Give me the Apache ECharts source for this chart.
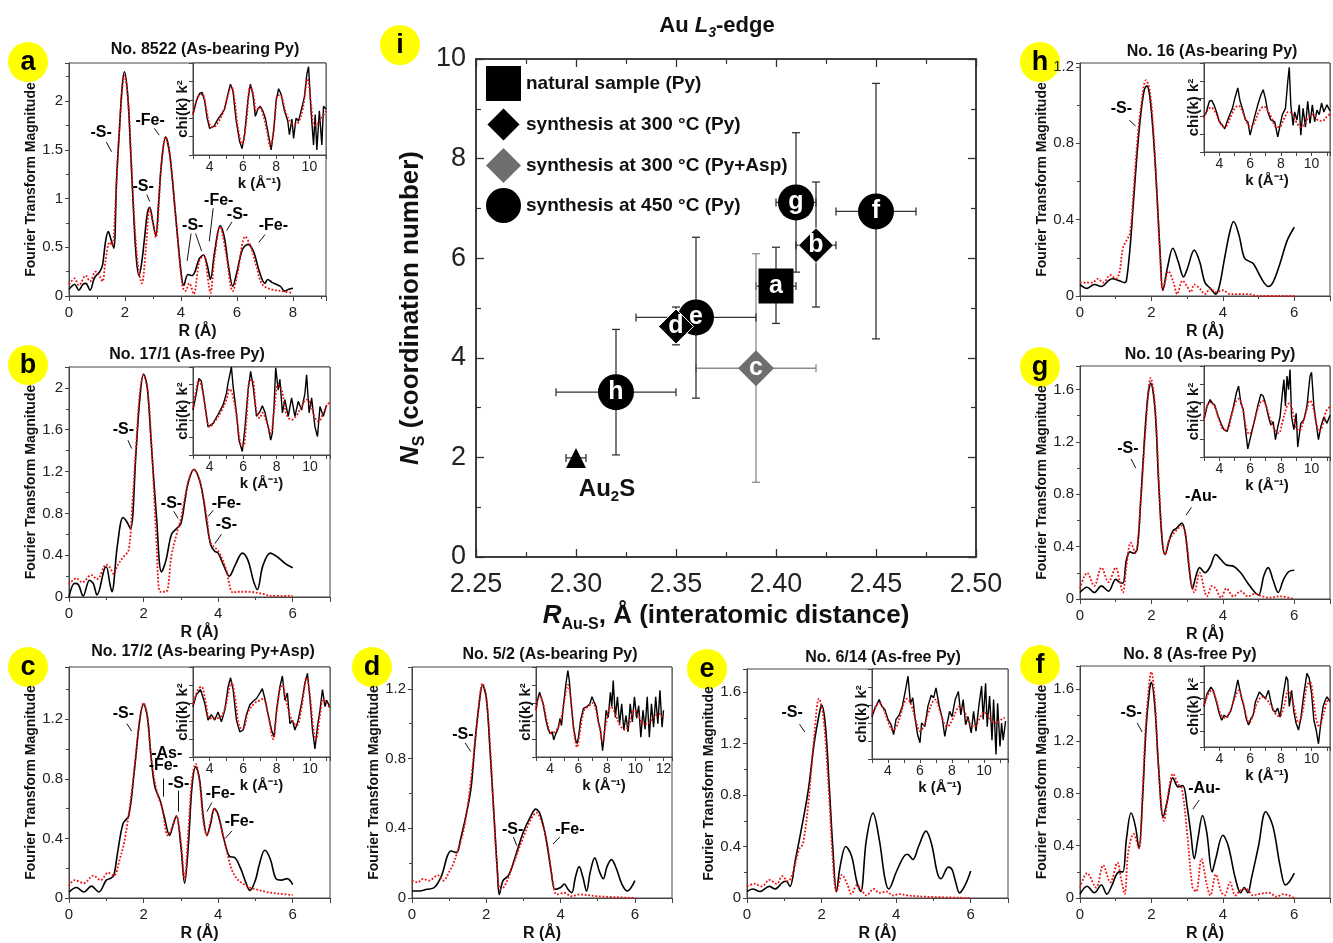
<!DOCTYPE html>
<html>
<head>
<meta charset="utf-8">
<script src="https://cdn.jsdelivr.net/npm/echarts@6/dist/echarts.min.js"></script>
<style>
html, body { margin: 0; padding: 0; background: #fff; }
#chart { width: 1333px; height: 943px; }
</style>
</head>
<body>
<div id="chart"></div>
<script>
const FONT = '"Liberation Sans", Arial, sans-serif'

// ---- FT magnitude curves, [R, |FT|] ; black = experiment, red = fit ----
const aBlack = [[0,0.07],[0.1,0.1],[0.2,0.12],[0.35,0.06],[0.5,0.12],[0.6,0.13],[0.75,0.06],[0.9,0.18],[1.0,0.22],[1.1,0.25],[1.2,0.32],[1.3,0.55],[1.4,0.66],[1.5,0.58],[1.6,0.49],[1.7,1.2],[1.8,1.7],[1.9,2.15],[1.98,2.3],[2.1,2.05],[2.2,1.5],[2.3,0.9],[2.4,0.4],[2.5,0.21],[2.6,0.35],[2.7,0.6],[2.8,0.85],[2.88,0.91],[3.0,0.75],[3.1,0.62],[3.2,0.95],[3.3,1.35],[3.45,1.63],[3.6,1.45],[3.8,0.85],[4.0,0.25],[4.1,0.11],[4.25,0.22],[4.4,0.21],[4.5,0.25],[4.65,0.38],[4.8,0.42],[4.95,0.3],[5.05,0.17],[5.2,0.45],[5.4,0.72],[5.55,0.6],[5.7,0.3],[5.85,0.1],[6.0,0.25],[6.2,0.48],[6.4,0.53],[6.6,0.45],[6.8,0.25],[7.0,0.13],[7.1,0.17],[7.25,0.14],[7.4,0.12],[7.55,0.1],[7.7,0.05],[7.85,0.07],[8.0,0.08]]
const aRed = [[0,0.12],[0.2,0.18],[0.35,0.11],[0.6,0.21],[0.75,0.15],[0.95,0.25],[1.1,0.2],[1.2,0.15],[1.3,0.35],[1.45,0.55],[1.55,0.52],[1.65,0.9],[1.8,1.7],[1.98,2.26],[2.1,2.05],[2.3,0.95],[2.45,0.35],[2.6,0.13],[2.75,0.5],[2.88,0.9],[3.0,0.75],[3.1,0.6],[3.3,1.35],[3.45,1.63],[3.6,1.45],[3.85,0.7],[4.05,0.1],[4.15,0.05],[4.3,0.13],[4.45,0.02],[4.65,0.35],[4.8,0.42],[5.0,0.1],[5.05,0.03],[5.2,0.4],[5.4,0.71],[5.6,0.45],[5.85,0.05],[6.0,0.2],[6.3,0.61],[6.5,0.5],[6.7,0.3],[6.9,0.12],[7.2,0.07],[7.6,0.05],[8.0,0.03]]

const bBlack = [[0,0.0],[0.15,0.13],[0.25,0.12],[0.38,0.01],[0.55,0.16],[0.65,0.13],[0.75,0.02],[0.95,0.27],[1.0,0.29],[1.1,0.12],[1.15,0.05],[1.3,0.5],[1.45,0.76],[1.55,0.72],[1.65,0.65],[1.8,1.4],[1.9,1.9],[2.0,2.13],[2.1,2.0],[2.2,1.5],[2.35,0.75],[2.48,0.24],[2.6,0.35],[2.75,0.6],[2.9,0.66],[3.0,0.7],[3.1,0.9],[3.2,1.1],[3.35,1.22],[3.5,1.12],[3.6,0.95],[3.7,0.7],[3.8,0.5],[3.9,0.44],[4.0,0.42],[4.15,0.3],[4.3,0.2],[4.45,0.3],[4.65,0.42],[4.8,0.35],[4.95,0.15],[5.05,0.07],[5.2,0.3],[5.4,0.42],[5.6,0.38],[5.8,0.32],[6.0,0.28]]
const bRed = [[0,0.12],[0.2,0.18],[0.35,0.14],[0.6,0.21],[0.75,0.17],[1.0,0.31],[1.1,0.28],[1.2,0.22],[1.3,0.3],[1.45,0.38],[1.6,0.45],[1.7,0.9],[1.8,1.45],[1.9,1.95],[2.0,2.13],[2.1,2.0],[2.2,1.55],[2.35,0.5],[2.45,0.05],[2.6,0.05],[2.75,0.4],[2.9,0.62],[3.0,0.75],[3.2,1.1],[3.35,1.22],[3.5,1.12],[3.7,0.75],[3.8,0.52],[4.0,0.44],[4.2,0.28],[4.4,0.04],[4.5,0.05],[4.8,0.05],[5.2,0.03],[5.4,0.01],[6.0,0.01]]

const cBlack = [[0,0.04],[0.2,0.07],[0.4,0.04],[0.6,0.08],[0.8,0.04],[1.0,0.12],[1.1,0.13],[1.2,0.15],[1.3,0.3],[1.45,0.5],[1.6,0.55],[1.75,0.85],[1.9,1.2],[2.0,1.3],[2.1,1.22],[2.2,0.95],[2.3,0.75],[2.45,0.65],[2.55,0.55],[2.7,0.42],[2.8,0.5],[2.88,0.55],[3.0,0.35],[3.1,0.1],[3.2,0.35],[3.3,0.75],[3.4,0.88],[3.5,0.8],[3.6,0.55],[3.7,0.42],[3.8,0.5],[3.9,0.6],[4.0,0.56],[4.15,0.4],[4.3,0.28],[4.45,0.27],[4.6,0.2],[4.75,0.1],[4.85,0.05],[5.0,0.12],[5.1,0.22],[5.25,0.32],[5.4,0.26],[5.55,0.13],[5.7,0.12],[5.85,0.13],[6.0,0.09]]
const cRed = [[0,0.08],[0.15,0.12],[0.4,0.1],[0.65,0.15],[0.85,0.12],[1.05,0.17],[1.2,0.15],[1.35,0.25],[1.5,0.4],[1.7,0.75],[1.9,1.2],[2.0,1.31],[2.1,1.22],[2.2,0.95],[2.35,0.72],[2.5,0.6],[2.65,0.42],[2.78,0.48],[2.88,0.55],[3.0,0.38],[3.1,0.13],[3.2,0.45],[3.3,0.8],[3.4,0.9],[3.5,0.78],[3.6,0.52],[3.7,0.42],[3.8,0.52],[3.9,0.6],[4.0,0.55],[4.2,0.35],[4.35,0.2],[4.5,0.13],[4.7,0.09],[4.85,0.07],[5.0,0.06],[5.3,0.04],[5.6,0.03],[6.0,0.02]]

const dBlack = [[0,0.04],[0.2,0.04],[0.4,0.05],[0.6,0.06],[0.8,0.13],[0.95,0.24],[1.05,0.27],[1.2,0.26],[1.3,0.33],[1.5,0.52],[1.6,0.65],[1.7,0.9],[1.8,1.1],[1.9,1.22],[2.0,1.15],[2.1,0.85],[2.2,0.5],[2.3,0.15],[2.35,0.02],[2.45,0.1],[2.6,0.13],[2.8,0.25],[3.0,0.38],[3.2,0.47],[3.33,0.51],[3.45,0.48],[3.6,0.35],[3.75,0.15],[3.85,0.05],[4.0,0.06],[4.1,0.08],[4.2,0.05],[4.3,0.03],[4.4,0.12],[4.5,0.18],[4.6,0.12],[4.7,0.04],[4.8,0.15],[4.92,0.23],[5.05,0.15],[5.15,0.11],[5.25,0.18],[5.37,0.22],[5.5,0.17],[5.65,0.08],[5.8,0.04],[5.9,0.06],[6.0,0.1]]
const dRed = [[0,0.1],[0.15,0.09],[0.3,0.11],[0.45,0.1],[0.7,0.13],[0.85,0.1],[1.0,0.15],[1.1,0.19],[1.2,0.25],[1.4,0.4],[1.6,0.7],[1.75,1.0],[1.9,1.23],[2.0,1.15],[2.1,0.88],[2.2,0.5],[2.3,0.15],[2.38,0.05],[2.5,0.07],[2.7,0.18],[3.0,0.35],[3.2,0.45],[3.35,0.49],[3.5,0.43],[3.65,0.3],[3.8,0.08],[3.9,0.02],[4.1,0.03],[4.3,0.01],[4.5,0.02],[5.0,0.01],[6.0,0.0]]

const eBlack = [[0,0.05],[0.15,0.07],[0.35,0.05],[0.6,0.09],[0.75,0.07],[0.95,0.12],[1.05,0.13],[1.15,0.09],[1.3,0.3],[1.5,0.6],[1.65,0.85],[1.8,1.2],[1.95,1.45],[2.0,1.5],[2.1,1.35],[2.2,0.9],[2.3,0.4],[2.4,0.05],[2.5,0.25],[2.65,0.4],[2.8,0.33],[2.95,0.12],[3.05,0.05],[3.2,0.45],[3.38,0.66],[3.55,0.45],[3.7,0.15],[3.8,0.07],[4.0,0.2],[4.2,0.32],[4.3,0.34],[4.45,0.3],[4.6,0.4],[4.8,0.52],[4.95,0.42],[5.1,0.2],[5.2,0.15],[5.4,0.24],[5.5,0.22],[5.6,0.12],[5.7,0.04],[5.85,0.1],[6.0,0.21]]
const eRed = [[0,0.09],[0.2,0.11],[0.4,0.09],[0.6,0.14],[0.8,0.11],[0.95,0.17],[1.1,0.13],[1.2,0.17],[1.4,0.38],[1.5,0.42],[1.65,0.75],[1.8,1.25],[1.93,1.55],[2.05,1.4],[2.2,0.8],[2.3,0.3],[2.4,0.05],[2.55,0.18],[2.7,0.1],[2.8,0.03],[2.95,0.1],[3.1,0.05],[3.2,0.02],[3.4,0.07],[3.55,0.04],[3.75,0.05],[3.9,0.02],[4.1,0.03],[4.3,0.02],[4.8,0.01],[6.0,0.0]]

const fBlack = [[0,0.03],[0.2,0.09],[0.4,0.04],[0.6,0.1],[0.75,0.03],[0.9,0.1],[1.0,0.17],[1.1,0.2],[1.2,0.2],[1.3,0.45],[1.43,0.65],[1.55,0.55],[1.65,0.38],[1.75,0.75],[1.85,1.3],[1.95,1.6],[2.0,1.65],[2.1,1.45],[2.2,1.0],[2.33,0.62],[2.45,0.75],[2.6,0.92],[2.75,0.85],[2.88,0.86],[3.0,0.7],[3.1,0.5],[3.2,0.3],[3.3,0.45],[3.43,0.63],[3.55,0.5],[3.7,0.2],[3.8,0.3],[4.0,0.48],[4.15,0.4],[4.35,0.15],[4.5,0.04],[4.6,0.08],[4.7,0.04],[4.8,0.15],[5.0,0.4],[5.2,0.66],[5.4,0.55],[5.6,0.25],[5.75,0.1],[5.85,0.12],[6.0,0.19]]
const fRed = [[0,0.08],[0.2,0.19],[0.45,0.08],[0.65,0.25],[0.85,0.12],[1.05,0.27],[1.15,0.15],[1.25,0.03],[1.35,0.35],[1.5,0.49],[1.65,0.38],[1.75,0.8],[1.85,1.35],[2.0,1.73],[2.1,1.5],[2.2,1.0],[2.35,0.59],[2.5,0.85],[2.6,0.95],[2.75,0.87],[2.85,0.84],[3.0,0.5],[3.15,0.08],[3.25,0.05],[3.4,0.3],[3.55,0.1],[3.65,0.02],[3.8,0.18],[3.95,0.05],[4.05,0.02],[4.2,0.12],[4.35,0.02],[4.5,0.06],[4.65,0.07],[4.85,0.02],[5.0,0.03],[5.3,0.04],[5.5,0.01],[5.7,0.03],[6.0,0.0]]

const gBlack = [[0,0.05],[0.2,0.09],[0.4,0.05],[0.6,0.1],[0.8,0.06],[1.0,0.15],[1.1,0.13],[1.2,0.12],[1.3,0.3],[1.4,0.36],[1.5,0.35],[1.6,0.38],[1.7,0.75],[1.8,1.2],[1.9,1.55],[1.98,1.65],[2.1,1.45],[2.2,0.9],[2.3,0.45],[2.38,0.34],[2.5,0.45],[2.6,0.52],[2.7,0.54],[2.85,0.58],[2.95,0.5],[3.05,0.25],[3.15,0.08],[3.25,0.18],[3.35,0.24],[3.5,0.2],[3.65,0.25],[3.8,0.34],[3.95,0.3],[4.1,0.26],[4.3,0.25],[4.5,0.2],[4.7,0.12],[4.9,0.05],[5.0,0.03],[5.15,0.18],[5.27,0.24],[5.4,0.15],[5.55,0.05],[5.7,0.15],[5.85,0.21],[6.0,0.22]]
const gRed = [[0,0.08],[0.2,0.2],[0.4,0.1],[0.6,0.24],[0.8,0.13],[1.0,0.24],[1.1,0.15],[1.2,0.05],[1.3,0.25],[1.42,0.43],[1.55,0.35],[1.7,0.75],[1.85,1.35],[1.98,1.69],[2.1,1.48],[2.2,0.95],[2.3,0.45],[2.38,0.34],[2.5,0.45],[2.65,0.51],[2.85,0.56],[3.0,0.4],[3.1,0.15],[3.2,0.05],[3.35,0.2],[3.5,0.05],[3.55,0.02],[3.7,0.1],[3.8,0.08],[3.95,0.01],[4.1,0.08],[4.3,0.02],[4.5,0.06],[4.7,0.02],[4.9,0.04],[5.1,0.02],[5.3,0.01],[5.6,0.02],[6.0,0.0]]

const hBlack = [[0,0.06],[0.2,0.04],[0.4,0.06],[0.6,0.05],[0.8,0.08],[0.9,0.09],[1.1,0.08],[1.25,0.07],[1.3,0.08],[1.4,0.25],[1.5,0.5],[1.6,0.75],[1.7,0.95],[1.8,1.08],[1.87,1.1],[1.95,1.05],[2.05,0.85],[2.15,0.55],[2.25,0.2],[2.32,0.03],[2.45,0.15],[2.6,0.25],[2.75,0.18],[2.9,0.1],[3.0,0.14],[3.2,0.24],[3.35,0.18],[3.5,0.07],[3.65,0.04],[3.8,0.01],[3.9,0.05],[4.05,0.2],[4.2,0.34],[4.3,0.39],[4.45,0.32],[4.6,0.2],[4.75,0.18],[4.85,0.17],[5.0,0.12],[5.15,0.07],[5.27,0.05],[5.4,0.07],[5.6,0.17],[5.8,0.29],[6.0,0.36]]
const hRed = [[0,0.07],[0.2,0.07],[0.35,0.07],[0.5,0.09],[0.65,0.07],[0.85,0.11],[1.0,0.09],[1.1,0.12],[1.2,0.25],[1.3,0.29],[1.4,0.33],[1.5,0.55],[1.6,0.8],[1.7,0.98],[1.85,1.13],[1.95,1.08],[2.05,0.88],[2.15,0.55],[2.25,0.18],[2.32,0.03],[2.48,0.13],[2.62,0.07],[2.72,0.01],[2.87,0.08],[3.0,0.05],[3.1,0.02],[3.2,0.06],[3.35,0.04],[3.5,0.01],[3.65,0.04],[3.8,0.02],[4.0,0.03],[4.2,0.01],[4.45,0.01],[4.7,0.01],[5.0,0.0],[6.0,0.0]]

// ---- inset chi(k)k^2 curves, [k, arbitrary units 0..10] ----
const aChiBlack = [[3.0,4.4],[3.2,5.9],[3.4,6.7],[3.55,6.8],[3.7,5.9],[3.85,4.0],[4.0,2.9],[4.1,2.8],[4.25,3.1],[4.5,3.9],[4.7,4.4],[4.9,5.0],[5.1,6.6],[5.25,7.7],[5.4,7.0],[5.6,3.7],[5.8,1.5],[5.95,0.7],[6.1,2.2],[6.3,5.9],[6.45,7.7],[6.6,6.6],[6.75,4.2],[6.9,5.0],[7.05,5.3],[7.2,4.8],[7.35,4.0],[7.5,2.6],[7.7,0.55],[7.85,2.6],[8.0,5.9],[8.15,7.2],[8.3,6.6],[8.5,4.8],[8.7,3.7],[8.8,2.2],[8.95,3.9],[9.05,1.8],[9.2,4.0],[9.35,3.7],[9.5,4.8],[9.7,6.3],[9.85,8.8],[9.95,9.6],[10.1,4.8],[10.25,1.1],[10.35,4.4],[10.45,0.55],[10.6,4.8],[10.75,1.1],[10.85,5.3],[11.0,5.0]]
const aChiRed = [[3.0,4.4],[3.3,6.3],[3.55,6.6],[3.8,5.0],[4.0,3.3],[4.2,3.0],[4.5,3.5],[4.8,4.6],[5.1,6.5],[5.3,7.5],[5.5,6.0],[5.7,3.0],[5.95,1.2],[6.2,3.5],[6.45,7.5],[6.65,6.4],[6.8,4.8],[7.0,5.2],[7.2,4.5],[7.45,2.6],[7.65,0.9],[7.9,3.5],[8.1,6.5],[8.3,6.4],[8.6,4.5],[8.9,3.5],[9.1,3.3],[9.35,3.6],[9.6,5.0],[9.9,8.3],[10.1,5.5],[10.3,3.2],[10.5,3.4],[10.8,4.2],[11.0,4.8]]

const bChiBlack = [[3.0,5.1],[3.2,7.0],[3.35,8.7],[3.5,8.4],[3.7,5.9],[3.9,3.2],[4.0,3.2],[4.2,3.6],[4.5,4.6],[4.8,5.7],[5.0,7.0],[5.1,8.2],[5.3,10.0],[5.4,7.8],[5.6,4.8],[5.75,1.7],[5.95,0.4],[6.1,2.9],[6.3,7.4],[6.45,9.5],[6.6,7.8],[6.8,4.4],[7.0,4.9],[7.15,5.6],[7.3,4.9],[7.5,3.2],[7.65,1.7],[7.75,2.5],[7.85,5.5],[7.95,9.9],[8.1,7.4],[8.2,8.6],[8.35,4.8],[8.5,6.3],[8.7,4.4],[8.9,6.5],[9.1,4.4],[9.3,6.1],[9.5,5.1],[9.7,7.0],[9.8,9.1],[9.95,4.8],[10.1,6.5],[10.3,3.2],[10.45,2.1],[10.6,5.5],[10.8,4.4],[11.0,5.7]]
const bChiRed = [[3.0,5.3],[3.2,7.5],[3.35,8.5],[3.55,7.5],[3.8,4.5],[4.0,3.2],[4.3,3.8],[4.7,5.0],[5.0,6.3],[5.2,7.5],[5.35,7.0],[5.6,4.5],[5.85,1.2],[6.0,1.0],[6.2,4.0],[6.4,8.5],[6.55,8.5],[6.8,5.0],[7.0,4.2],[7.15,4.8],[7.4,3.8],[7.65,2.5],[7.85,5.0],[8.1,8.0],[8.3,7.5],[8.6,4.6],[8.9,4.0],[9.2,4.5],[9.5,5.5],[9.8,6.3],[10.0,6.0],[10.3,4.2],[10.5,3.8],[10.8,4.8],[11.0,5.6],[11.2,6.0]]

const cChiBlack = [[3.0,5.6],[3.2,6.9],[3.45,7.5],[3.7,6.0],[3.9,4.1],[4.1,4.7],[4.3,4.1],[4.5,5.0],[4.7,3.9],[4.9,5.2],[5.1,7.8],[5.25,8.8],[5.4,7.5],[5.6,4.1],[5.8,2.8],[6.0,3.0],[6.2,4.7],[6.4,5.8],[6.6,6.2],[6.8,6.5],[7.0,7.1],[7.15,7.6],[7.3,6.5],[7.5,4.7],[7.7,3.0],[7.85,2.2],[8.0,5.2],[8.2,7.8],[8.35,9.0],[8.5,6.3],[8.65,7.1],[8.8,3.7],[8.95,4.1],[9.1,3.0],[9.3,4.1],[9.5,6.0],[9.7,8.2],[9.85,9.3],[10.0,6.5],[10.15,3.0],[10.3,0.9],[10.45,3.4],[10.6,5.2],[10.75,7.5],[10.9,5.6],[11.0,6.3],[11.2,5.5]]
const cChiRed = [[3.0,5.8],[3.3,7.5],[3.5,7.8],[3.75,6.2],[4.0,4.3],[4.3,4.3],[4.6,4.4],[4.9,5.3],[5.1,7.0],[5.3,8.3],[5.5,6.8],[5.8,3.3],[6.0,3.2],[6.3,5.0],[6.7,6.0],[7.0,6.3],[7.2,6.5],[7.5,4.6],[7.8,2.0],[8.0,4.8],[8.2,7.5],[8.35,8.0],[8.6,6.0],[8.9,4.2],[9.2,3.5],[9.5,5.5],[9.8,8.8],[10.0,6.8],[10.2,3.2],[10.35,1.9],[10.6,4.6],[10.8,6.4],[11.0,6.0],[11.2,5.4]]

const dChiBlack = [[3.0,5.2],[3.1,6.3],[3.25,7.2],[3.35,7.0],[3.5,5.9],[3.7,4.1],[3.85,3.1],[4.0,2.6],[4.15,2.8],[4.25,1.9],[4.4,2.6],[4.55,3.1],[4.7,4.3],[4.8,3.5],[4.95,5.9],[5.1,8.0],[5.25,9.6],[5.35,8.5],[5.5,5.6],[5.65,3.3],[5.8,1.9],[5.9,1.5],[6.0,2.2],[6.15,4.1],[6.35,5.4],[6.6,5.6],[6.8,5.9],[6.95,6.7],[7.1,6.1],[7.25,5.6],[7.4,3.9],[7.55,3.0],[7.7,0.7],[7.8,2.2],[7.95,5.2],[8.1,4.4],[8.25,7.2],[8.35,5.6],[8.45,8.5],[8.6,4.4],[8.75,6.7],[8.9,3.7],[9.05,5.9],[9.2,3.0],[9.35,4.6],[9.5,2.8],[9.65,5.9],[9.8,3.9],[9.95,6.7],[10.1,4.3],[10.25,5.7],[10.4,2.2],[10.55,5.2],[10.7,3.1],[10.85,6.7],[11.0,2.2],[11.15,5.9],[11.3,3.3],[11.45,6.7],[11.6,3.7],[11.75,7.4],[11.9,3.3],[12.0,5.2]]
const dChiRed = [[3.0,5.2],[3.25,6.8],[3.5,6.0],[3.8,3.8],[4.1,2.6],[4.4,2.9],[4.7,3.8],[5.0,6.2],[5.25,8.0],[5.45,6.5],[5.7,2.5],[5.9,1.1],[6.1,2.8],[6.4,5.2],[6.7,5.6],[7.0,6.0],[7.2,5.4],[7.5,3.2],[7.7,1.7],[7.95,3.8],[8.3,5.6],[8.6,4.8],[8.9,3.6],[9.3,3.0],[9.6,3.8],[9.95,5.2],[10.3,4.4],[10.6,3.6],[11.0,3.8],[11.3,4.4],[11.7,4.8],[12.0,4.2]]

const eChiBlack = [[3.0,4.7],[3.2,5.7],[3.45,6.6],[3.6,5.9],[3.8,5.5],[4.0,4.4],[4.2,3.8],[4.35,2.7],[4.5,4.4],[4.7,4.9],[4.9,5.9],[5.1,7.7],[5.25,9.2],[5.4,6.2],[5.55,6.8],[5.7,4.4],[5.85,2.7],[6.0,1.8],[6.1,4.0],[6.3,3.6],[6.5,5.9],[6.7,7.1],[6.85,6.8],[7.0,7.9],[7.2,5.9],[7.4,4.4],[7.55,2.5],[7.7,4.0],[7.85,5.3],[8.0,4.7],[8.2,6.6],[8.4,7.5],[8.55,4.9],[8.7,6.6],[8.85,3.8],[9.0,4.7],[9.2,2.9],[9.35,5.3],[9.5,3.1],[9.7,6.2],[9.85,8.1],[9.95,4.4],[10.1,8.4],[10.2,3.6],[10.35,7.0],[10.5,2.1],[10.6,6.6],[10.75,0.5],[10.85,6.2],[11.0,1.4],[11.1,4.0],[11.2,2.1],[11.35,4.2]]
const eChiRed = [[3.0,4.9],[3.25,5.9],[3.45,6.2],[3.7,5.6],[4.0,4.2],[4.3,3.2],[4.5,3.5],[4.8,5.0],[5.0,6.2],[5.2,6.7],[5.45,6.0],[5.75,4.2],[6.0,3.1],[6.2,3.5],[6.5,5.0],[6.8,6.4],[6.95,6.6],[7.2,5.6],[7.5,4.0],[7.7,3.6],[8.0,4.3],[8.3,5.5],[8.5,5.9],[8.8,5.2],[9.1,4.0],[9.4,3.6],[9.7,4.4],[10.0,5.2],[10.2,5.0],[10.5,4.2],[10.8,4.0],[11.0,4.3],[11.3,4.6]]

const fChiBlack = [[3.0,5.0],[3.2,6.6],[3.45,7.4],[3.6,7.0],[3.8,5.6],[4.0,4.1],[4.15,3.3],[4.3,3.9],[4.5,3.7],[4.75,4.5],[5.0,6.4],[5.2,8.3],[5.3,8.5],[5.45,6.0],[5.6,5.0],[5.75,3.5],[5.9,2.7],[6.05,3.5],[6.2,3.9],[6.35,5.6],[6.6,6.8],[6.8,6.4],[7.0,6.0],[7.2,7.0],[7.35,5.6],[7.5,4.5],[7.65,4.3],[7.8,4.8],[7.95,3.7],[8.15,6.4],[8.35,8.7],[8.45,8.3],[8.55,5.0],[8.7,7.0],[8.85,4.3],[9.0,2.9],[9.15,2.1],[9.3,3.5],[9.5,6.6],[9.7,9.1],[9.85,8.5],[10.0,6.6],[10.15,3.3],[10.3,2.1],[10.45,0.4],[10.6,2.9],[10.75,5.0],[10.9,5.8],[11.0,6.2],[11.2,5.6]]
const fChiRed = [[3.0,5.2],[3.3,6.6],[3.5,7.0],[3.8,5.8],[4.1,4.0],[4.4,3.6],[4.7,4.4],[5.0,6.0],[5.25,7.0],[5.5,5.8],[5.75,3.8],[5.95,3.0],[6.2,4.0],[6.5,5.6],[6.8,6.2],[7.1,5.8],[7.4,5.0],[7.7,4.0],[7.9,3.8],[8.2,5.0],[8.5,7.0],[8.7,6.2],[8.95,4.2],[9.15,3.0],[9.4,4.2],[9.7,7.6],[9.9,8.0],[10.1,6.0],[10.3,3.5],[10.5,2.5],[10.7,3.5],[10.9,5.0],[11.0,5.6],[11.2,6.0]]

const gChiBlack = [[3.0,4.1],[3.2,5.6],[3.4,6.3],[3.55,5.9],[3.7,5.7],[3.9,4.6],[4.1,3.7],[4.3,3.0],[4.5,2.8],[4.7,4.1],[4.9,5.4],[5.1,7.0],[5.25,7.8],[5.4,5.9],[5.55,5.2],[5.7,3.0],[5.85,0.9],[6.0,2.0],[6.15,3.0],[6.3,4.1],[6.5,5.6],[6.7,6.9],[6.85,6.7],[7.0,5.9],[7.2,4.4],[7.35,3.5],[7.5,3.9],[7.65,1.9],[7.8,3.3],[7.95,4.4],[8.1,7.0],[8.2,8.5],[8.3,5.6],[8.4,8.9],[8.5,7.4],[8.6,9.6],[8.7,4.4],[8.85,3.0],[9.0,4.8],[9.1,1.1],[9.3,3.7],[9.5,4.1],[9.7,5.6],[9.9,8.9],[10.0,9.3],[10.15,5.6],[10.3,3.7],[10.45,1.9],[10.6,3.3],[10.8,4.4],[11.0,3.7],[11.2,4.6]]
const gChiRed = [[3.0,4.1],[3.2,5.6],[3.4,6.0],[3.7,5.5],[4.0,4.0],[4.3,3.0],[4.5,3.0],[4.8,4.6],[5.05,6.0],[5.25,6.4],[5.5,5.5],[5.75,3.2],[5.95,2.5],[6.2,3.5],[6.5,5.3],[6.8,6.2],[7.0,5.8],[7.3,4.2],[7.6,3.0],[7.85,2.6],[8.1,3.8],[8.4,5.6],[8.55,5.9],[8.8,4.8],[9.0,3.2],[9.2,2.9],[9.45,3.8],[9.7,5.3],[9.9,6.2],[10.1,5.5],[10.3,3.8],[10.5,2.8],[10.7,3.4],[10.9,4.8],[11.0,5.2],[11.2,5.5]]

const hChiBlack = [[3.0,4.0],[3.15,4.5],[3.35,5.7],[3.5,5.8],[3.65,5.3],[3.85,4.3],[4.0,3.4],[4.2,3.0],[4.35,2.6],[4.5,3.4],[4.7,4.3],[4.85,4.9],[5.0,6.0],[5.2,7.2],[5.35,5.7],[5.5,4.9],[5.7,3.6],[5.85,3.4],[6.0,1.9],[6.1,2.6],[6.3,4.0],[6.5,5.3],[6.7,6.4],[6.85,7.0],[7.0,6.0],[7.15,4.5],[7.35,3.6],[7.6,3.4],[7.8,1.7],[7.95,3.0],[8.1,4.2],[8.3,4.9],[8.45,7.9],[8.55,9.5],[8.65,5.3],[8.8,3.0],[8.9,4.5],[9.05,3.6],[9.2,5.3],[9.3,1.9],[9.45,4.9],[9.6,2.8],[9.75,5.7],[9.9,3.2],[10.05,5.3],[10.2,3.4],[10.35,4.7],[10.5,4.2],[10.65,5.5],[10.8,4.5],[11.0,5.3],[11.2,4.6]]
const hChiRed = [[3.0,3.8],[3.2,4.6],[3.45,5.0],[3.7,4.6],[4.0,3.5],[4.3,2.8],[4.5,3.0],[4.8,4.2],[5.05,5.0],[5.25,5.2],[5.5,4.6],[5.8,3.3],[6.05,2.8],[6.3,3.4],[6.6,4.6],[6.9,5.1],[7.1,4.8],[7.4,3.8],[7.7,2.8],[7.9,2.8],[8.2,3.7],[8.5,4.5],[8.7,4.4],[9.0,3.4],[9.3,2.8],[9.5,3.0],[9.8,3.9],[10.1,4.2],[10.4,3.6],[10.7,3.5],[11.0,4.0],[11.2,4.3]]

// ---- peak annotations: [text, textR, textY, arrowFromR, arrowFromY, arrowToR, arrowToY] ----
const aNotes = [['-S-',1.15,1.68,1.33,1.58,1.52,1.48],['-Fe-',2.9,1.8,3.05,1.72,3.22,1.65],['-S-',2.65,1.12,2.78,1.04,2.88,0.97],['-S-',4.42,0.72,4.36,0.64,4.22,0.36],['',0,0,4.52,0.64,4.74,0.46],['-Fe-',5.35,0.98,5.15,0.9,5.01,0.56],['-S-',6.02,0.83,5.82,0.76,5.63,0.67],['-Fe-',7.3,0.72,7.0,0.63,6.78,0.55]]
const bNotes = [['-S-',1.46,1.6,1.58,1.5,1.68,1.42],['-S-',2.75,0.89,2.81,0.82,2.93,0.75],['-Fe-',4.22,0.89,3.87,0.83,3.73,0.77],['-S-',4.22,0.69,4.09,0.6,3.91,0.51]]
const cNotes = [['-S-',1.46,1.24,1.55,1.17,1.68,1.12],['-As-',2.62,0.97],['-Fe-',2.53,0.89,2.52,0.8,2.52,0.68],['-S-',2.94,0.77,2.94,0.72,2.94,0.58],['-Fe-',4.06,0.7,3.83,0.64,3.7,0.58],['-Fe-',4.57,0.51,4.37,0.45,4.19,0.4]]
const dNotes = [['-S-',1.37,0.94,1.43,0.89,1.58,0.84],['-S-',2.71,0.39,2.73,0.35,2.82,0.3],['-Fe-',4.25,0.39,3.98,0.35,3.8,0.31]]
const eNotes = [['-S-',1.21,1.44,1.41,1.35,1.55,1.29]]
const fNotes = [['-S-',1.43,1.42,1.6,1.34,1.74,1.27],['-Au-',3.48,0.84,3.34,0.75,3.16,0.68]]
const gNotes = [['-S-',1.34,1.15,1.43,1.07,1.56,1.0],['-Au-',3.39,0.78,3.12,0.7,2.97,0.64]]
const hNotes = [['-S-',1.16,0.98,1.38,0.92,1.56,0.89]]

// ---- panel i: Au-S distance vs coordination number ----
const iLabels = ['a', 'b', 'c', 'd', 'e', 'f', 'g', 'h']
const iR = [2.40, 2.42, 2.39, 2.35, 2.36, 2.45, 2.41, 2.32]
const iN = [5.44, 6.26, 3.79, 4.63, 4.81, 6.94, 7.12, 3.31]
const iRlo = [2.39, 2.41, 2.36, 2.35, 2.33, 2.43, 2.40, 2.29]
const iRhi = [2.41, 2.43, 2.42, 2.35, 2.39, 2.47, 2.42, 2.35]
const iNlo = [4.69, 5.02, 1.50, 4.26, 3.19, 4.38, 5.72, 2.05]
const iNhi = [6.22, 7.53, 6.09, 5.02, 6.42, 9.51, 8.52, 4.57]
const iGroup = ['nat', 'py300', 'asp300', 'py300', 'py450', 'py450', 'py450', 'py450']
const au2sR = 2.30, au2sN = 1.99, au2sRlo = 2.295, au2sRhi = 2.305

const groupNames = {
  nat: 'natural sample (Py)',
  py300: 'synthesis at 300 °C (Py)',
  asp300: 'synthesis at 300 °C (Py+Asp)',
  py450: 'synthesis at 450 °C (Py)'
}

const AX = '#444'
const grids = [], xAxes = [], yAxes = [], series = [], graphics = []

// tick label: show only values that sit on the step
const onStep = (step) => (v) => {
  const r = v / step
  return Math.abs(r - Math.round(r)) < 1e-6 ? String(+v.toFixed(2)) : ''
}

function noteSeries(ax, notes) {
  const pts = notes.filter(n => n[0]).map(n => [n[1], n[2], n[0]])
  const arrows = notes.filter(n => n.length > 3).map(n => [{ coord: [n[3], n[4]] }, { coord: [n[5], n[6]] }])
  return {
    type: 'scatter', xAxisIndex: ax, yAxisIndex: ax, data: pts, symbolSize: 1,
    itemStyle: { color: 'rgba(0,0,0,0)', opacity: 1 }, z: 6, silent: true,
    label: { show: true, position: 'inside', formatter: p => p.data[2], fontFamily: FONT, fontWeight: 'bold', fontSize: 16, color: '#000' },
    markLine: {
      silent: true, symbol: ['none', 'arrow'], symbolSize: [0, 6], label: { show: false },
      lineStyle: { color: '#111', width: 1, type: 'solid', opacity: 1 }, data: arrows
    }
  }
}

function addPanel(p) {
  // main FT plot
  let gi = grids.length
  grids.push({ left: p.box[0], top: p.box[1], width: p.box[2], height: p.box[3], show: true, borderColor: AX, borderWidth: 1 })
  let ax = xAxes.length
  xAxes.push({
    gridIndex: gi, type: 'value', min: 0, max: p.xMax, interval: 2,
    axisLine: { onZero: false, lineStyle: { color: AX } },
    axisTick: { length: 5, lineStyle: { color: AX } },
    minorTick: { show: true, splitNumber: 2, length: 3, lineStyle: { color: AX } },
    splitLine: { show: false },
    axisLabel: { fontFamily: FONT, fontSize: 15, color: '#222', margin: 9, formatter: onStep(2) },
    name: 'R (Å)', nameLocation: 'middle', nameGap: 28,
    nameTextStyle: { fontFamily: FONT, fontWeight: 'bold', fontSize: 16, color: '#111' }
  })
  yAxes.push({
    gridIndex: gi, type: 'value', min: 0, max: p.yMax, interval: p.yStep,
    axisLine: { onZero: false, lineStyle: { color: AX } },
    axisTick: { length: 4, lineStyle: { color: AX } },
    minorTick: { show: true, splitNumber: 2, length: 3, lineStyle: { color: AX } },
    splitLine: { show: false },
    axisLabel: { fontFamily: FONT, fontSize: 15, color: '#222', margin: 6, formatter: onStep(p.yStep) },
    name: 'Fourier Transform Magnitude', nameLocation: 'middle', nameGap: 28,
    nameTextStyle: { fontFamily: FONT, fontWeight: 'bold', fontSize: 14, color: '#111' }
  })
  series.push({ type: 'line', xAxisIndex: ax, yAxisIndex: ax, data: p.black, smooth: 0.35, symbol: 'none', lineStyle: { color: '#000', width: 1.6 }, z: 3, silent: true })
  series.push({ type: 'line', xAxisIndex: ax, yAxisIndex: ax, data: p.red, smooth: 0.35, symbol: 'none', lineStyle: { color: '#f01010', width: 1.8, type: 'dotted' }, z: 4, silent: true })
  series.push(noteSeries(ax, p.notes))

  // inset chi(k) k^2
  gi = grids.length
  grids.push({ left: p.inset[0], top: p.inset[1], width: p.inset[2], height: p.inset[3], show: true, borderColor: AX, borderWidth: 1, backgroundColor: '#fff' })
  ax = xAxes.length
  xAxes.push({
    gridIndex: gi, type: 'value', min: 3, max: p.kMax, interval: 1,
    axisLine: { onZero: false, lineStyle: { color: AX } },
    axisTick: { length: 4, lineStyle: { color: AX } },
    splitLine: { show: false },
    axisLabel: { fontFamily: FONT, fontSize: 14, color: '#222', margin: 5, formatter: v => (Number.isInteger(v) && v % 2 === 0) ? String(v) : '' },
    name: 'k (Å⁻¹)', nameLocation: 'middle', nameGap: 21,
    nameTextStyle: { fontFamily: FONT, fontWeight: 'bold', fontSize: 15, color: '#111' }
  })
  yAxes.push({
    gridIndex: gi, type: 'value', min: 0, max: 10, interval: 2,
    axisLine: { onZero: false, lineStyle: { color: AX } },
    axisTick: { length: 4, lineStyle: { color: AX } },
    splitLine: { show: false }, axisLabel: { show: false },
    name: 'chi(k) k²', nameLocation: 'middle', nameGap: 3,
    nameTextStyle: { fontFamily: FONT, fontWeight: 'bold', fontSize: 15, color: '#111' }
  })
  series.push({ type: 'line', xAxisIndex: ax, yAxisIndex: ax, data: p.chiBlack, symbol: 'none', lineStyle: { color: '#000', width: 1.4 }, z: 3, silent: true })
  series.push({ type: 'line', xAxisIndex: ax, yAxisIndex: ax, data: p.chiRed, smooth: 0.4, symbol: 'none', lineStyle: { color: '#f01010', width: 1.8, type: 'dotted' }, z: 4, silent: true })

  // panel title and yellow tag
  graphics.push({ type: 'text', x: p.title[1], y: p.title[2], style: { text: p.title[0], font: 'bold 16px ' + FONT, fill: '#111', align: 'center', verticalAlign: 'middle' } })
  addTag(p.tag[0], p.tag[1], p.tag[2])
}

function addTag(letter, cx, cy) {
  graphics.push({ type: 'circle', shape: { cx: cx, cy: cy, r: 20 }, style: { fill: '#ffff00' } })
  graphics.push({ type: 'text', x: cx, y: cy + 1, style: { text: letter, font: 'bold 27px ' + FONT, fill: '#000', align: 'center', verticalAlign: 'middle' } })
}

addPanel({ box: [69, 63, 257, 233], xMax: 9.18, yMax: 2.39, yStep: 0.5, black: aBlack, red: aRed, notes: aNotes,
  inset: [193, 63, 133, 92], kMax: 11, chiBlack: aChiBlack, chiRed: aChiRed, title: ['No. 8522 (As-bearing Py)', 205, 50], tag: ['a', 28, 62] })
addPanel({ box: [69, 367, 261, 230], xMax: 7, yMax: 2.2, yStep: 0.4, black: bBlack, red: bRed, notes: bNotes,
  inset: [193, 367, 137, 88], kMax: 11.2, chiBlack: bChiBlack, chiRed: bChiRed, title: ['No. 17/1 (As-free Py)', 187, 355], tag: ['b', 28, 365] })
addPanel({ box: [69, 667, 261, 231], xMax: 7, yMax: 1.55, yStep: 0.4, black: cBlack, red: cRed, notes: cNotes,
  inset: [193, 667, 137, 90], kMax: 11.2, chiBlack: cChiBlack, chiRed: cChiRed, title: ['No. 17/2 (As-bearing Py+Asp)', 203, 652], tag: ['c', 28, 667] })
addPanel({ box: [412, 667, 260, 231], xMax: 7, yMax: 1.325, yStep: 0.4, black: dBlack, red: dRed, notes: dNotes,
  inset: [536, 667, 136, 90], kMax: 12.6, chiBlack: dChiBlack, chiRed: dChiRed, title: ['No. 5/2 (As-bearing Py)', 550, 655], tag: ['d', 372, 667] })
addPanel({ box: [747, 669, 261, 233], xMax: 7, yMax: 1.78, yStep: 0.4, black: eBlack, red: eRed, notes: eNotes,
  inset: [872, 669, 136, 90], kMax: 11.5, chiBlack: eChiBlack, chiRed: eChiRed, title: ['No. 6/14 (As-free Py)', 883, 658], tag: ['e', 707, 669] })
addPanel({ box: [1080, 666, 262, 232], xMax: 7, yMax: 1.775, yStep: 0.4, black: fBlack, red: fRed, notes: fNotes,
  inset: [1204, 666, 138, 81], kMax: 11.2, chiBlack: fChiBlack, chiRed: fChiRed, title: ['No. 8 (As-free Py)', 1190, 655], tag: ['f', 1040, 665] })
addPanel({ box: [1080, 366, 262, 233], xMax: 7, yMax: 1.78, yStep: 0.4, black: gBlack, red: gRed, notes: gNotes,
  inset: [1204, 366, 138, 91], kMax: 11.2, chiBlack: gChiBlack, chiRed: gChiRed, title: ['No. 10 (As-bearing Py)', 1210, 355], tag: ['g', 1040, 367] })
addPanel({ box: [1080, 63, 262, 233], xMax: 7, yMax: 1.22, yStep: 0.4, black: hBlack, red: hRed, notes: hNotes,
  inset: [1204, 63, 138, 89], kMax: 11.2, chiBlack: hChiBlack, chiRed: hChiRed, title: ['No. 16 (As-bearing Py)', 1212, 52], tag: ['h', 1040, 62] })

// ---- panel i ----
const gi = grids.length
grids.push({ left: 476, top: 59, width: 500, height: 498, show: true, borderColor: '#333', borderWidth: 1.5 })
const ix = xAxes.length, iy = yAxes.length
const bigTick = { inside: true, length: 8, lineStyle: { color: '#333', width: 1.3 } }
const bigMinor = { show: true, splitNumber: 2, length: 5, lineStyle: { color: '#333', width: 1.2 } }
const richName = {
  b: { fontFamily: FONT, fontWeight: 'bold', fontSize: 26, color: '#111', lineHeight: 34 },
  i: { fontFamily: FONT, fontWeight: 'bold', fontStyle: 'italic', fontSize: 26, color: '#111', lineHeight: 34 },
  s: { fontFamily: FONT, fontWeight: 'bold', fontSize: 16, color: '#111', lineHeight: 16, verticalAlign: 'bottom' }
}
xAxes.push({
  gridIndex: gi, type: 'value', min: 2.25, max: 2.5, interval: 0.05, position: 'bottom',
  axisLine: { onZero: false, lineStyle: { color: '#333', width: 1.5 } }, axisTick: bigTick, minorTick: bigMinor,
  splitLine: { show: false },
  axisLabel: { fontFamily: FONT, fontSize: 27, color: '#222', margin: 14, formatter: v => v.toFixed(2) },
  name: '{i|R}{s|Au-S}{b|, Å (interatomic distance)}', nameLocation: 'middle', nameGap: 42,
  nameTextStyle: { rich: richName }
})
xAxes.push({
  gridIndex: gi, type: 'value', min: 2.25, max: 2.5, interval: 0.05, position: 'top',
  axisLine: { onZero: false, lineStyle: { color: '#333', width: 1.5 } }, axisTick: bigTick, minorTick: bigMinor,
  splitLine: { show: false }, axisLabel: { show: false }
})
yAxes.push({
  gridIndex: gi, type: 'value', min: 0, max: 10, interval: 2, position: 'left',
  axisLine: { onZero: false, lineStyle: { color: '#333', width: 1.5 } }, axisTick: bigTick, minorTick: bigMinor,
  splitLine: { show: false },
  axisLabel: { fontFamily: FONT, fontSize: 27, color: '#222', margin: 10 },
  name: '{i|N}{s|S}{b| (coordination number)}', nameLocation: 'middle', nameGap: 48,
  nameTextStyle: { rich: richName }
})
yAxes.push({
  gridIndex: gi, type: 'value', min: 0, max: 10, interval: 2, position: 'right',
  axisLine: { onZero: false, lineStyle: { color: '#333', width: 1.5 } }, axisTick: bigTick, minorTick: bigMinor,
  splitLine: { show: false }, axisLabel: { show: false }
})

// error bars
const errData = iR.map((r, k) => [r, iN[k], iRlo[k], iRhi[k], iNlo[k], iNhi[k], iGroup[k] === 'asp300' ? 1 : 0])
errData.push([au2sR, au2sN, au2sRlo, au2sRhi, au2sN, au2sN, 0])
series.push({
  type: 'custom', xAxisIndex: ix, yAxisIndex: iy, data: errData, encode: { x: 0, y: 1 }, z: 2, silent: true,
  renderItem: (params, api) => {
    const st = { stroke: api.value(6) ? '#8c8c8c' : '#333', lineWidth: 1.3 }
    const kids = []
    const seg = (a, b) => kids.push({ type: 'line', shape: { x1: a[0], y1: a[1], x2: b[0], y2: b[1] }, style: st })
    const cap = 4
    const x = api.value(0), y = api.value(1)
    if (api.value(5) > api.value(4)) {
      const lo = api.coord([x, api.value(4)]), hi = api.coord([x, api.value(5)])
      seg(lo, hi)
      seg([lo[0] - cap, lo[1]], [lo[0] + cap, lo[1]])
      seg([hi[0] - cap, hi[1]], [hi[0] + cap, hi[1]])
    }
    if (api.value(3) > api.value(2)) {
      const lo = api.coord([api.value(2), y]), hi = api.coord([api.value(3), y])
      seg(lo, hi)
      seg([lo[0], lo[1] - cap], [lo[0], lo[1] + cap])
      seg([hi[0], hi[1] - cap], [hi[0], hi[1] + cap])
    }
    return { type: 'group', children: kids }
  }
})

const pointLabel = { show: true, position: 'inside', formatter: p => p.data[2], fontFamily: FONT, fontWeight: 'bold', fontSize: 25, color: '#fff' }
const pts = (g) => iR.map((r, k) => [r, iN[k], iLabels[k], iGroup[k]]).filter(d => d[3] === g)
series.push({ name: groupNames.py450, type: 'scatter', xAxisIndex: ix, yAxisIndex: iy, data: pts('py450'), symbol: 'circle', symbolSize: 36, itemStyle: { color: '#000', opacity: 1 }, label: pointLabel, z: 4 })
series.push({ name: groupNames.py300, type: 'scatter', xAxisIndex: ix, yAxisIndex: iy, data: pts('py300'), symbol: 'diamond', symbolSize: 35, itemStyle: { color: '#000', borderColor: '#fff', borderWidth: 1, opacity: 1 }, label: pointLabel, z: 5 })
series.push({ name: groupNames.asp300, type: 'scatter', xAxisIndex: ix, yAxisIndex: iy, data: pts('asp300'), symbol: 'diamond', symbolSize: 36, itemStyle: { color: '#6e6e6e', opacity: 1 }, label: pointLabel, z: 5 })
series.push({ name: groupNames.nat, type: 'scatter', xAxisIndex: ix, yAxisIndex: iy, data: pts('nat'), symbol: 'rect', symbolSize: 35, itemStyle: { color: '#000', opacity: 1 }, label: pointLabel, z: 5 })
series.push({
  name: 'Au2S', type: 'scatter', xAxisIndex: ix, yAxisIndex: iy, data: [[au2sR, au2sN]], symbol: 'triangle', symbolSize: 20,
  itemStyle: { color: '#000', opacity: 1 }, z: 5,
  label: { show: true, position: 'bottom', distance: 6, offset: [31, 0], formatter: '{b|Au}{s|2}{b|S}',
    rich: {
      b: { fontFamily: FONT, fontWeight: 'bold', fontSize: 24, color: '#111', lineHeight: 30 },
      s: { fontFamily: FONT, fontWeight: 'bold', fontSize: 15, color: '#111', lineHeight: 15, verticalAlign: 'bottom' }
    } }
})

graphics.push({ type: 'text', x: 717, y: 26, style: {
  text: '{b|Au }{i|L}{s|3}{b|-edge}', align: 'center', verticalAlign: 'middle',
  rich: {
    b: { font: 'bold 22px ' + FONT, fill: '#111', lineHeight: 28 },
    i: { font: 'italic bold 22px ' + FONT, fill: '#111', lineHeight: 28 },
    s: { font: 'italic bold 14px ' + FONT, fill: '#111', lineHeight: 14, verticalAlign: 'bottom' }
  } } })
addTag('i', 400, 45)

const chart = echarts.init(document.getElementById('chart'))
chart.setOption({
  animation: false,
  backgroundColor: '#fff',
  textStyle: { fontFamily: FONT },
  legend: {
    data: [groupNames.nat, groupNames.py300, groupNames.asp300, groupNames.py450],
    orient: 'vertical', left: 480, top: 61, itemWidth: 35, itemHeight: 35, itemGap: 5,
    selectedMode: false,
    textStyle: { fontFamily: FONT, fontWeight: 'bold', fontSize: 19, color: '#111' }
  },
  grid: grids,
  xAxis: xAxes,
  yAxis: yAxes,
  series: series,
  graphic: graphics
})
window.addEventListener('resize', () => chart.resize())
</script>
</body>
</html>
